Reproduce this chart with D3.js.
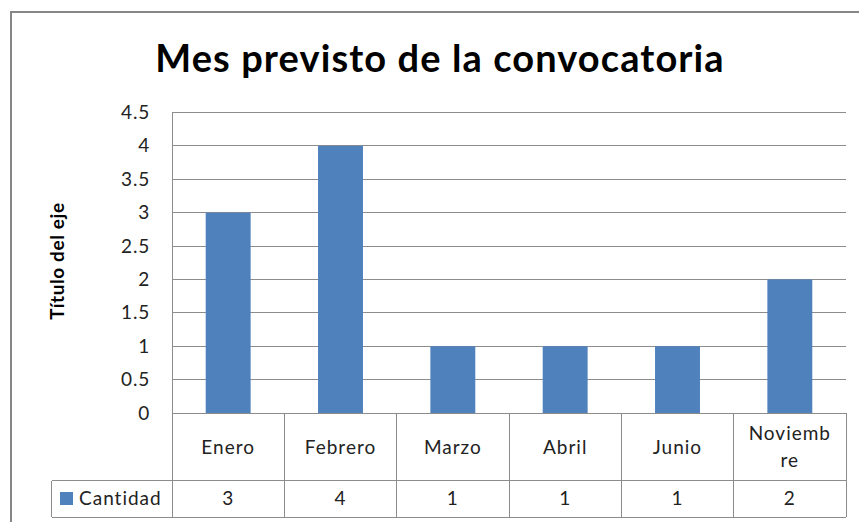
<!DOCTYPE html>
<html><head><meta charset="utf-8">
<script src="https://cdn.jsdelivr.net/npm/d3@7"></script>
<style>body{margin:0;background:#fff}svg{display:block}</style>
</head><body>
<script>
const categories = ["Enero","Febrero","Marzo","Abril","Junio","Noviembre"];
const categoryLines = [["Enero"],["Febrero"],["Marzo"],["Abril"],["Junio"],["Noviemb","re"]];
const values = [3,4,1,1,1,2];
const seriesName = "Cantidad";
const yTicks = [0,0.5,1,1.5,2,2.5,3,3.5,4,4.5];
const title = "Mes previsto de la convocatoria";
const yTitle = "Título del eje";

const W = 859, H = 522;
const font = "Lato, 'Open Sans', sans-serif";
const svg = d3.select("body").append("svg").attr("width", W).attr("height", H);

// outer chart border
svg.append("rect").attr("x", 11).attr("y", 12).attr("width", 860).attr("height", 530)
  .attr("fill", "#fff").attr("stroke", "#868686").attr("stroke-width", 2);

const pLeft = 172, pRight = 846, pTop = 112.5, pBottom = 413;
const x = d3.scaleBand().domain(categories).range([pLeft, pRight]).paddingInner(0.6).paddingOuter(0.3);
const xc = d3.scaleBand().domain(categories).range([pLeft, pRight]);
const y = d3.scaleLinear().domain([0, 4.5]).range([pBottom, pTop]);

// title
svg.append("text").attr("x", 440).attr("y", 72).attr("text-anchor", "middle")
  .attr("font-family", font).attr("font-weight", "bold").attr("font-size", 38)
  .attr("letter-spacing", 1.1).attr("fill", "#000")
  .text(title);

// gridlines
svg.append("g").selectAll("line").data(yTicks).join("line")
  .attr("x1", pLeft).attr("x2", pRight).attr("y1", d => y(d)).attr("y2", d => y(d))
  .attr("stroke", "#8c8c8c").attr("stroke-width", 1).attr("shape-rendering", "crispEdges");

// left axis line
svg.append("line").attr("x1", pLeft).attr("x2", pLeft).attr("y1", pTop).attr("y2", pBottom)
  .attr("stroke", "#8c8c8c").attr("shape-rendering", "crispEdges");

// y axis tick labels
const yAxis = d3.axisLeft(y).tickValues(yTicks).tickSize(0).tickPadding(22).tickFormat(d3.format("~g"));
const ga = svg.append("g").attr("transform", `translate(${pLeft},0)`).call(yAxis);
ga.select(".domain").remove();
ga.selectAll("text").attr("font-family", font).attr("font-size", 19).attr("letter-spacing", 0.8).attr("fill", "#222");

// y title
svg.append("text").attr("transform", "translate(64,261) rotate(-90)").attr("text-anchor", "middle")
  .attr("font-family", font).attr("font-weight", "bold").attr("font-size", 19).attr("letter-spacing", 0.6).attr("fill", "#000")
  .text(yTitle);

// bars
svg.append("g").selectAll("rect").data(values).join("rect")
  .attr("x", (d, i) => x(categories[i])).attr("width", x.bandwidth())
  .attr("y", d => y(d)).attr("height", d => y(0) - y(d))
  .attr("fill", "#4F81BD");

// data table
const rowTop = pBottom, rowMid = 480.5, rowBot = 517, legLeft = 51.5;
const tg = svg.append("g").attr("stroke", "#8c8c8c").attr("shape-rendering", "crispEdges");
tg.append("line").attr("x1", legLeft).attr("x2", pRight).attr("y1", rowMid).attr("y2", rowMid);
tg.append("line").attr("x1", legLeft).attr("x2", pRight).attr("y1", rowBot).attr("y2", rowBot);
tg.append("line").attr("x1", legLeft).attr("x2", legLeft).attr("y1", rowMid).attr("y2", rowBot);
const bounds = categories.map(c => xc(c)).concat([pRight]);
tg.selectAll("line.v").data(bounds).join("line").attr("class", "v")
  .attr("x1", d => d).attr("x2", d => d).attr("y1", rowTop).attr("y2", rowBot);

// category labels
const cl = svg.append("g").attr("font-family", font).attr("font-size", 19).attr("letter-spacing", 1)
  .attr("fill", "#222").attr("text-anchor", "middle");
categories.forEach((c, i) => {
  const lines = categoryLines[i];
  const cx = xc(c) + xc.bandwidth() / 2;
  const mid = (rowTop + rowMid) / 2;
  lines.forEach((t, j) => {
    cl.append("text").attr("x", cx).attr("y", mid + 7 + (j - (lines.length - 1) / 2) * 27).text(t);
  });
  cl.append("text").attr("x", cx).attr("y", 505).text(values[i]);
});

// legend key
svg.append("rect").attr("x", 60).attr("y", 492).attr("width", 13).attr("height", 13).attr("fill", "#4F81BD");
svg.append("text").attr("x", 79).attr("y", 505).attr("font-family", font)
  .attr("font-size", 19).attr("letter-spacing", 1).attr("fill", "#222").text(seriesName);
</script>
</body></html>
